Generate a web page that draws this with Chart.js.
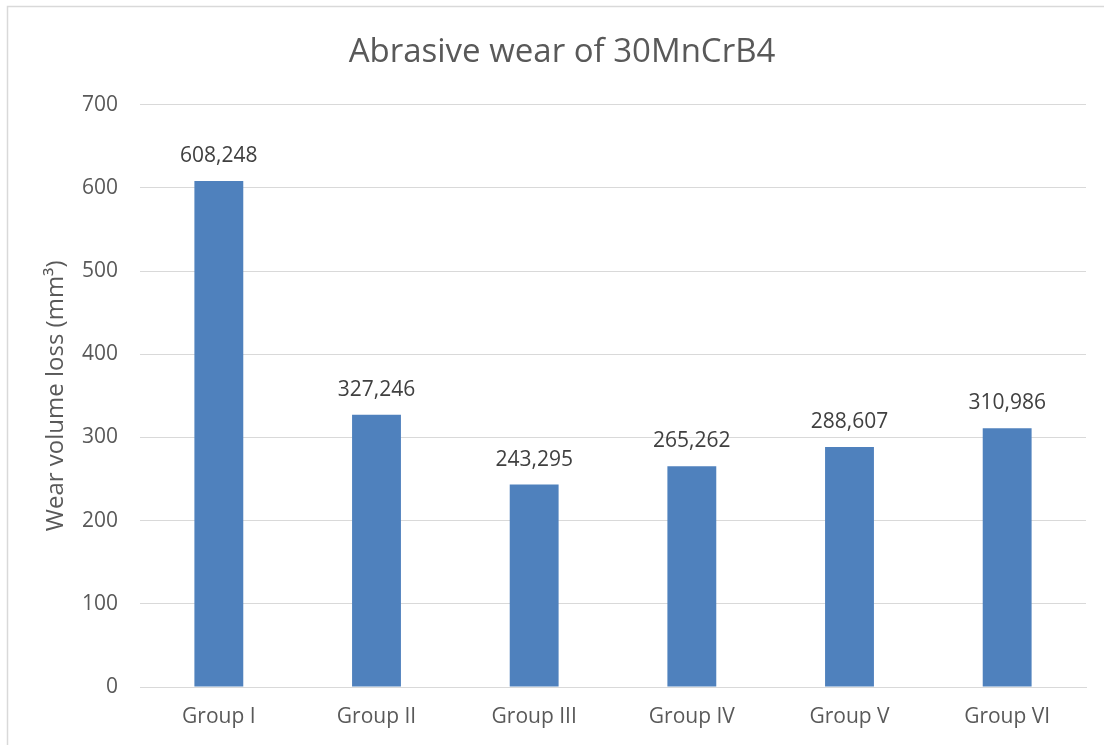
<!DOCTYPE html>
<html>
<head>
<meta charset="utf-8">
<script src="https://cdn.jsdelivr.net/npm/chart.js@4"></script>
<style>
  html, body { margin: 0; padding: 0; background: #ffffff; }
  #wrap { width: 1104px; height: 745px; position: relative; }
</style>
</head>
<body>
<div id="wrap"><canvas id="chart" width="1104" height="745"></canvas></div>
<script>
// Wear volume loss per test group (mm³)
const groups = ['Group I', 'Group II', 'Group III', 'Group IV', 'Group V', 'Group VI'];
const wearVolume = [608.248, 327.246, 243.295, 265.262, 288.607, 310.986];
const yTicks = [0, 100, 200, 300, 400, 500, 600, 700];

const FONT = "'Open Sans', 'Liberation Sans', sans-serif";
const GRID = '#d9d9d9';
const TEXT = '#595959';

// Outer frame of the chart object
const framePlugin = {
  id: 'frame',
  beforeDraw(chart) {
    const ctx = chart.ctx;
    ctx.save();
    ctx.fillStyle = '#ffffff';
    ctx.fillRect(0, 0, chart.width, chart.height);
    ctx.strokeStyle = GRID;
    ctx.lineWidth = 1.5;
    ctx.strokeRect(7.5, 6.5, chart.width + 20, chart.height + 20);
    ctx.restore();
  }
};

// Centre the title on the full chart object, which runs past the right edge
const titleShift = {
  id: 'titleShift',
  afterLayout(chart) {
    if (chart.titleBlock) chart.titleBlock.left += 20;
  }
};

// Value labels above each bar, decimal comma
const valueLabels = {
  id: 'valueLabels',
  afterDatasetsDraw(chart) {
    const ctx = chart.ctx;
    const meta = chart.getDatasetMeta(0);
    ctx.save();
    ctx.font = '21px ' + FONT;
    ctx.fillStyle = '#404040';
    ctx.textAlign = 'center';
    ctx.textBaseline = 'alphabetic';
    meta.data.forEach((bar, i) => {
      const txt = wearVolume[i].toFixed(3).replace('.', ',');
      ctx.fillText(txt, bar.x, bar.y - 19);
    });
    ctx.restore();
  }
};

new Chart(document.getElementById('chart'), {
  type: 'bar',
  data: {
    labels: groups,
    datasets: [{
      data: wearVolume,
      backgroundColor: '#4f81bd',
      borderWidth: 0,
      barPercentage: 0.31,
      categoryPercentage: 1
    }]
  },
  plugins: [framePlugin, titleShift, valueLabels],
  options: {
    responsive: false,
    animation: false,
    devicePixelRatio: 1,
    layout: { padding: { left: 18, right: 18, top: 0, bottom: 0 } },
    plugins: {
      legend: { display: false },
      tooltip: { enabled: false },
      title: {
        display: true,
        text: 'Abrasive wear of 30MnCrB4',
        color: TEXT,
        font: { family: FONT, size: 33, weight: 'normal' },
        padding: { top: 33, bottom: 32 }
      }
    },
    scales: {
      x: {
        grid: { display: false, drawTicks: false },
        border: { display: true, color: GRID, width: 1 },
        ticks: { color: TEXT, font: { family: FONT, size: 21 }, padding: 17 },
        afterFit(scale) { scale.height = 745 - 687; }
      },
      y: {
        min: 0,
        max: 700,
        afterBuildTicks(scale) { scale.ticks = yTicks.map(v => ({ value: v })); },
        grid: { color: GRID, lineWidth: 1, drawTicks: false },
        border: { display: false },
        ticks: { color: TEXT, font: { family: FONT, size: 21 }, padding: 22 },
        title: {
          display: true,
          text: 'Wear volume loss (mm³)',
          color: TEXT,
          font: { family: FONT, size: 24, weight: 'normal' },
          padding: { top: 24, bottom: 0 }
        },
        afterFit(scale) { scale.width = 140 - 18; }
      }
    }
  }
});
</script>
</body>
</html>
